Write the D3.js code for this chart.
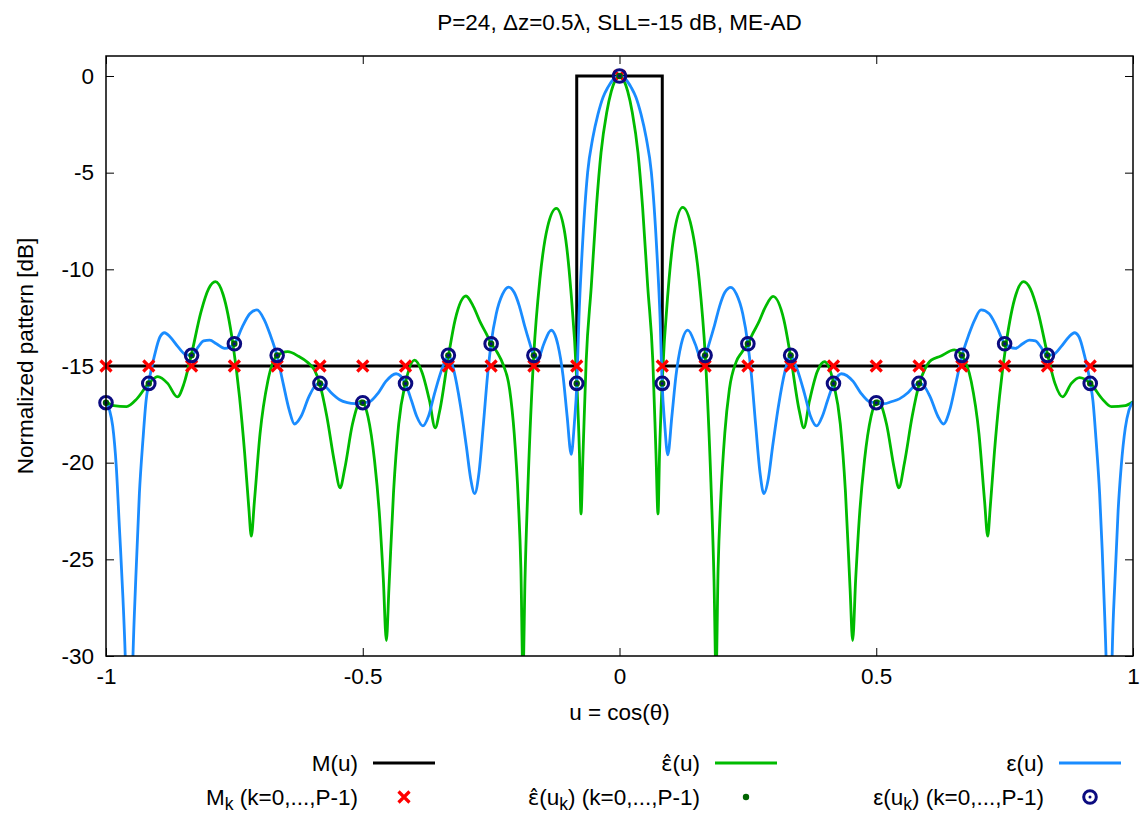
<!DOCTYPE html>
<html>
<head>
<meta charset="utf-8">
<script src="https://cdn.jsdelivr.net/npm/d3@7"></script>
<style>
  html, body { margin: 0; padding: 0; background: #fff; }
  svg { display: block; font-family: "Liberation Sans", Arial, Helvetica, sans-serif; }
</style>
</head>
<body>
<svg id="chart" width="1147" height="819"></svg>
<script>
// ---------------- data ----------------
const titleText = "P=24, \u0394z=0.5\u03bb, SLL=-15 dB, ME-AD";

const xTicks = [-1, -0.5, 0, 0.5, 1];
const xTickLabels = ["-1", "-0.5", "0", "0.5", "1"];
const yTicks = [0, -5, -10, -15, -20, -25, -30];
const yTickLabels = ["0", "-5", "-10", "-15", "-20", "-25", "-30"];

// sample directions u_k, k = 0..P-1
const sampleU = [-1, -0.9167, -0.8333, -0.75, -0.6667, -0.5833, -0.5, -0.4167,
                 -0.3333, -0.25, -0.1667, -0.0833, 0, 0.0833, 0.1667, 0.25,
                 0.3333, 0.4167, 0.5, 0.5833, 0.6667, 0.75, 0.8333, 0.9167];
// mask values M_k at the samples [dB]
const maskSamples = [-15, -15, -15, -15, -15, -15, -15, -15, -15, -15, -15, -15,
                     0, -15, -15, -15, -15, -15, -15, -15, -15, -15, -15, -15];
// pattern values at the samples [dB] (shared by both patterns)
const patternSamples = [-16.9, -15.9, -14.45, -13.85, -14.45, -15.9, -16.9, -15.9,
                        -14.45, -13.85, -14.45, -15.9, 0, -15.9, -14.45, -13.85,
                        -14.45, -15.9, -16.9, -15.9, -14.45, -13.85, -14.45, -15.9];

// mask M(u) breakpoints
const maskU  = [-1, -0.0833, -0.0833, 0.0833, 0.0833, 1];
const maskDb = [-15, -15, 0, 0, -15, -15];

// estimated pattern  eps^(u)  [u, dB]
const epsHatCurve = [
  [-1.000,-16.85],[-0.985,-17.05],[-0.960,-17.1],[-0.940,-16.7],[-0.917,-15.9],[-0.899,-15.55],
  [-0.880,-15.9],[-0.861,-16.6],[-0.848,-15.9],[-0.834,-14.45],[-0.815,-12.2],[-0.800,-11.0],
  [-0.787,-10.64],[-0.772,-11.3],[-0.753,-13.83],[-0.740,-16.6],[-0.730,-19.5],[-0.722,-22.3],
  [-0.717,-23.8],[-0.711,-22.0],[-0.700,-18.5],[-0.685,-15.8],[-0.667,-14.47],[-0.646,-14.26],
  [-0.625,-14.5],[-0.608,-14.8],[-0.594,-15.2],[-0.584,-15.9],[-0.570,-17.6],[-0.555,-20.0],
  [-0.544,-21.3],[-0.535,-20.3],[-0.520,-18.0],[-0.503,-16.8],[-0.490,-17.6],[-0.477,-19.9],
  [-0.468,-22.5],[-0.460,-26.0],[-0.454,-29.2],[-0.449,-26.5],[-0.440,-21.5],[-0.430,-18.0],
  [-0.417,-15.9],[-0.399,-14.7],[-0.385,-15.3],[-0.370,-16.8],[-0.359,-18.2],[-0.350,-17.3],
  [-0.333,-14.47],[-0.320,-12.6],[-0.299,-11.38],[-0.285,-11.9],[-0.270,-12.8],[-0.258,-13.4],
  [-0.250,-13.83],[-0.238,-14.3],[-0.227,-14.9],[-0.214,-16.2],[-0.205,-18.5],[-0.197,-22.0],
  [-0.192,-25.5],[-0.188,-31],[-0.184,-26],[-0.178,-21],[-0.167,-14.45],[-0.155,-10.5],
  [-0.140,-7.8],[-0.123,-6.85],[-0.108,-7.9],[-0.095,-11.0],[-0.083,-15.9],[-0.078,-19.5],
  [-0.075,-22.65],[-0.071,-19.5],[-0.065,-14.8],[-0.055,-10.9],[-0.045,-6.8],[-0.036,-3.97],
  [-0.025,-1.9],[-0.016,-0.8],[0,0],
  [0.016,-0.8],[0.025,-1.9],[0.036,-3.97],[0.045,-6.8],[0.055,-10.9],[0.065,-14.8],
  [0.071,-19.5],[0.075,-22.65],[0.078,-19.5],[0.083,-15.9],[0.095,-11.0],[0.108,-7.9],
  [0.123,-6.8],[0.140,-7.8],[0.155,-10.5],[0.167,-14.45],[0.178,-21],[0.184,-26],
  [0.188,-31],[0.192,-25.5],[0.197,-22.0],[0.205,-18.5],[0.214,-16.2],[0.227,-14.8],
  [0.238,-14.3],[0.250,-13.86],[0.258,-13.4],[0.270,-12.8],[0.285,-11.9],[0.299,-11.4],
  [0.320,-12.6],[0.333,-14.47],[0.350,-17.3],[0.359,-18.2],[0.370,-16.8],[0.385,-15.3],
  [0.399,-14.78],[0.417,-15.9],[0.430,-18.0],[0.440,-21.5],[0.449,-26.5],[0.454,-29.2],
  [0.460,-26.0],[0.468,-22.5],[0.477,-19.9],[0.490,-17.6],[0.503,-16.8],[0.520,-18.0],
  [0.535,-20.3],[0.544,-21.3],[0.555,-20.0],[0.570,-17.6],[0.584,-15.9],[0.594,-15.2],
  [0.607,-14.7],[0.625,-14.5],[0.652,-14.17],[0.667,-14.47],[0.685,-15.8],[0.700,-18.5],
  [0.711,-22.0],[0.717,-23.8],[0.722,-22.3],[0.730,-19.5],[0.740,-16.6],[0.753,-13.83],
  [0.772,-11.3],[0.787,-10.64],[0.800,-11.0],[0.815,-12.2],[0.834,-14.45],[0.848,-15.9],
  [0.863,-16.6],[0.880,-15.9],[0.896,-15.6],[0.917,-15.9],[0.940,-16.7],[0.958,-17.1],
  [0.985,-17.05],[1.000,-16.85]
];

// synthesized pattern  eps(u)  [u, dB]
const epsCurve = [
  [-1.000,-16.85],[-0.993,-17.3],[-0.987,-18.1],[-0.980,-20.2],[-0.974,-23.3],[-0.967,-27.0],
  [-0.962,-30.5],[-0.955,-40],[-0.948,-30.5],[-0.942,-26],[-0.935,-21.6],[-0.928,-18.8],
  [-0.922,-16.8],[-0.917,-15.9],[-0.905,-14.4],[-0.895,-13.5],[-0.886,-13.28],[-0.875,-13.5],
  [-0.860,-14.0],[-0.845,-14.4],[-0.833,-14.45],[-0.820,-14.0],[-0.810,-13.7],[-0.798,-13.66],
  [-0.785,-13.85],[-0.769,-14.09],[-0.750,-13.85],[-0.735,-13.0],[-0.720,-12.3],[-0.706,-12.1],
  [-0.692,-12.6],[-0.680,-13.4],[-0.667,-14.47],[-0.655,-15.9],[-0.643,-17.3],[-0.633,-18.0],
  [-0.620,-17.6],[-0.605,-16.6],[-0.590,-15.95],[-0.583,-15.9],[-0.575,-16.0],[-0.561,-16.4],
  [-0.545,-16.75],[-0.530,-16.9],[-0.515,-16.95],[-0.500,-16.9],[-0.487,-16.85],[-0.470,-16.4],
  [-0.455,-15.8],[-0.435,-15.4],[-0.417,-15.9],[-0.405,-16.8],[-0.395,-17.6],[-0.383,-18.1],
  [-0.372,-17.6],[-0.360,-16.4],[-0.345,-15.1],[-0.333,-14.47],[-0.322,-15.3],[-0.310,-17.0],
  [-0.298,-19.2],[-0.290,-20.8],[-0.282,-21.6],[-0.274,-20.6],[-0.265,-18.0],[-0.257,-15.5],
  [-0.250,-13.83],[-0.240,-12.3],[-0.228,-11.3],[-0.216,-10.92],[-0.205,-11.2],[-0.195,-11.9],
  [-0.185,-12.9],[-0.175,-13.8],[-0.167,-14.45],[-0.158,-14.6],[-0.148,-13.9],[-0.133,-13.15],
  [-0.120,-13.9],[-0.110,-15.5],[-0.102,-17.6],[-0.094,-19.57],[-0.088,-18.0],[-0.083,-15.9],
  [-0.079,-12.5],[-0.073,-9.2],[-0.062,-4.97],[-0.052,-3.2],[-0.042,-1.99],[-0.032,-1.1],
  [-0.023,-0.6],[-0.011,-0.15],[0,0],
  [0.011,-0.15],[0.023,-0.6],[0.032,-1.1],[0.042,-1.99],[0.052,-3.2],[0.062,-4.97],
  [0.073,-9.2],[0.079,-12.5],[0.083,-15.9],[0.088,-18.0],[0.094,-19.6],[0.102,-17.6],
  [0.110,-15.5],[0.120,-13.9],[0.133,-13.14],[0.148,-13.9],[0.158,-14.6],[0.167,-14.45],
  [0.175,-13.8],[0.185,-12.9],[0.195,-11.9],[0.205,-11.2],[0.217,-10.93],[0.228,-11.3],
  [0.240,-12.3],[0.250,-13.86],[0.257,-15.5],[0.265,-18.0],[0.274,-20.6],[0.281,-21.6],
  [0.290,-20.8],[0.298,-19.2],[0.310,-17.0],[0.322,-15.3],[0.333,-14.47],[0.345,-15.1],
  [0.360,-16.4],[0.372,-17.6],[0.384,-18.1],[0.395,-17.6],[0.405,-16.8],[0.417,-15.9],
  [0.432,-15.4],[0.455,-15.8],[0.470,-16.4],[0.487,-16.85],[0.500,-16.9],[0.515,-16.95],
  [0.529,-16.85],[0.545,-16.7],[0.561,-16.4],[0.575,-16.0],[0.583,-15.9],[0.590,-15.95],
  [0.605,-16.6],[0.620,-17.6],[0.631,-18.0],[0.643,-17.3],[0.655,-15.9],[0.667,-14.47],
  [0.680,-13.4],[0.692,-12.6],[0.704,-12.1],[0.720,-12.3],[0.735,-13.0],[0.750,-13.83],
  [0.771,-14.09],[0.785,-13.85],[0.798,-13.66],[0.810,-13.7],[0.820,-14.0],[0.833,-14.45],
  [0.845,-14.4],[0.860,-14.0],[0.875,-13.5],[0.886,-13.28],[0.895,-13.5],[0.905,-14.4],
  [0.917,-15.9],[0.922,-16.8],[0.928,-18.8],[0.935,-21.6],[0.940,-24.5],[0.945,-28.0],
  [0.948,-30.5],[0.954,-40],[0.959,-30.5],[0.965,-26],[0.971,-22.5],[0.977,-20.2],
  [0.985,-18.2],[0.992,-17.3],[1.000,-16.85]
];

// ---------------- styling ----------------
const colMask = "#000000";
const colHat = "#00bb00";
const colEps = "#1a8cff";
const colCross = "#ff0000";
const colDot = "#006400";
const colRing = "#0b0b80";
const fontSize = 22.5;

// ---------------- layout ----------------
const svg = d3.select("#chart");
const plot = { left: 106, right: 1133, top: 56, bottom: 656 };

const x = d3.scaleLinear().domain([-1, 1]).range([plot.left, plot.right]);
const y = d3.scaleLinear().domain([-30, 1.034]).range([plot.bottom, plot.top]);

svg.append("rect").attr("width", 1147).attr("height", 819).attr("fill", "#fff");

svg.append("defs").append("clipPath").attr("id", "plotClip")
  .append("rect")
  .attr("x", plot.left).attr("y", plot.top)
  .attr("width", plot.right - plot.left).attr("height", plot.bottom - plot.top);

// title
svg.append("text")
  .attr("x", (plot.left + plot.right) / 2).attr("y", 22)
  .attr("text-anchor", "middle").attr("dominant-baseline", "central")
  .attr("font-size", fontSize).text(titleText);

// axes (ticks point inward, mirrored on top/right)
function styleAxis(g) {
  g.select(".domain").remove();
  g.selectAll(".tick line").attr("stroke", "#000").attr("stroke-width", 1);
  g.selectAll(".tick text").attr("fill", "#000").attr("font-size", fontSize)
    .attr("font-family", "Liberation Sans, Arial, sans-serif");
}
svg.append("g").attr("transform", `translate(0,${plot.bottom})`)
  .call(d3.axisBottom(x).tickValues(xTicks).tickFormat((d, i) => xTickLabels[i])
    .tickSizeInner(-8).tickSizeOuter(0).tickPadding(12))
  .call(styleAxis);
svg.append("g").attr("transform", `translate(${plot.left},0)`)
  .call(d3.axisLeft(y).tickValues(yTicks).tickFormat((d, i) => yTickLabels[i])
    .tickSizeInner(-8).tickSizeOuter(0).tickPadding(12))
  .call(styleAxis);
svg.append("g").attr("transform", `translate(0,${plot.top})`)
  .call(d3.axisTop(x).tickValues(xTicks).tickFormat(() => "")
    .tickSizeInner(-8).tickSizeOuter(0))
  .call(styleAxis);
svg.append("g").attr("transform", `translate(${plot.right},0)`)
  .call(d3.axisRight(y).tickValues(yTicks).tickFormat(() => "")
    .tickSizeInner(-8).tickSizeOuter(0))
  .call(styleAxis);

// axis labels
svg.append("text")
  .attr("transform", `translate(25,${(plot.top + plot.bottom) / 2}) rotate(-90)`)
  .attr("text-anchor", "middle").attr("dominant-baseline", "central")
  .attr("font-size", fontSize).text("Normalized pattern [dB]");
svg.append("text")
  .attr("x", (plot.left + plot.right) / 2).attr("y", 712)
  .attr("text-anchor", "middle").attr("dominant-baseline", "central")
  .attr("font-size", fontSize).text("u = cos(\u03b8)");

// curves
const layer = svg.append("g").attr("clip-path", "url(#plotClip)");
const lineGen = d3.line().x(d => x(d[0])).y(d => y(d[1]));
const smoothGen = d3.line().x(d => x(d[0])).y(d => y(d[1])).curve(d3.curveMonotoneX);

const maskPts = maskU.map((u, i) => [u, maskDb[i]]);
layer.append("path").datum(maskPts).attr("d", lineGen)
  .attr("fill", "none").attr("stroke", colMask).attr("stroke-width", 3);
layer.append("path").datum(epsHatCurve).attr("d", smoothGen)
  .attr("fill", "none").attr("stroke", colHat).attr("stroke-width", 2.8)
  .attr("stroke-linejoin", "round");
layer.append("path").datum(epsCurve).attr("d", smoothGen)
  .attr("fill", "none").attr("stroke", colEps).attr("stroke-width", 2.8)
  .attr("stroke-linejoin", "round");

// markers
const crossPath = "M-5.5,-5.5L5.5,5.5M-5.5,5.5L5.5,-5.5";
const marks = svg.append("g");
marks.selectAll(".mk").data(sampleU).join("path")
  .attr("class", "mk")
  .attr("transform", (u, i) => `translate(${x(u)},${y(maskSamples[i])})`)
  .attr("d", crossPath).attr("stroke", colCross).attr("stroke-width", 3.2).attr("fill", "none");
marks.selectAll(".ed").data(sampleU).join("circle")
  .attr("class", "ed")
  .attr("cx", u => x(u)).attr("cy", (u, i) => y(patternSamples[i]))
  .attr("r", 3.2).attr("fill", colDot);
marks.selectAll(".er").data(sampleU).join("circle")
  .attr("class", "er")
  .attr("cx", u => x(u)).attr("cy", (u, i) => y(patternSamples[i]))
  .attr("r", 6.3).attr("fill", "none").attr("stroke", colRing).attr("stroke-width", 3);
marks.selectAll(".ec").data(sampleU).join("circle")
  .attr("class", "ec")
  .attr("cx", u => x(u)).attr("cy", (u, i) => y(patternSamples[i]))
  .attr("r", 1.5).attr("fill", colRing);

// frame
svg.append("rect")
  .attr("x", plot.left).attr("y", plot.top)
  .attr("width", plot.right - plot.left).attr("height", plot.bottom - plot.top)
  .attr("fill", "none").attr("stroke", "#000").attr("stroke-width", 1.5);

// ---------------- legend ----------------
const legendCols = [358, 700, 1044];
const legendRows = [763, 797];
const sampleLen = 62;
const legend = svg.append("g").attr("font-size", fontSize);

// parts: array of [string, kind]; kind: "" plain, "sub" subscript, "hat" epsilon with circumflex
function legendText(xEnd, yMid, parts) {
  const t = legend.append("text")
    .attr("x", xEnd).attr("y", yMid + fontSize * 0.35)
    .attr("text-anchor", "end");
  let shifted = false;
  parts.forEach(([s, kind]) => {
    const ts = t.append("tspan").text(s);
    const sub = kind === "sub";
    if (sub) ts.attr("font-size", fontSize * 0.78);
    if (kind === "hat") ts.attr("font-family", "DejaVu Sans").attr("font-size", fontSize * 0.95);
    if (sub && !shifted) { ts.attr("dy", 5); shifted = true; }
    else if (!sub && shifted) { ts.attr("dy", -5); shifted = false; }
  });
}

const c0 = legendCols[0], c1 = legendCols[1], c2 = legendCols[2];
const r0 = legendRows[0], r1 = legendRows[1];
const epsHat = "\u03b5\u0302";

legendText(c0, r0, [["M(u)", ""]]);
legend.append("line").attr("x1", c0 + 15).attr("x2", c0 + 15 + sampleLen)
  .attr("y1", r0).attr("y2", r0).attr("stroke", colMask).attr("stroke-width", 3);

legendText(c1, r0, [[epsHat, "hat"], ["(u)", ""]]);
legend.append("line").attr("x1", c1 + 15).attr("x2", c1 + 15 + sampleLen)
  .attr("y1", r0).attr("y2", r0).attr("stroke", colHat).attr("stroke-width", 3);

legendText(c2, r0, [["\u03b5(u)", ""]]);
legend.append("line").attr("x1", c2 + 15).attr("x2", c2 + 15 + sampleLen)
  .attr("y1", r0).attr("y2", r0).attr("stroke", colEps).attr("stroke-width", 3);

legendText(c0, r1, [["M", ""], ["k", "sub"], [" (k=0,...,P-1)", ""]]);
legend.append("path").attr("transform", `translate(${c0 + 15 + sampleLen / 2},${r1})`)
  .attr("d", crossPath).attr("stroke", colCross).attr("stroke-width", 3.2).attr("fill", "none");

legendText(c1, r1, [[epsHat, "hat"], ["(u", ""], ["k", "sub"], [") (k=0,...,P-1)", ""]]);
legend.append("circle").attr("cx", c1 + 15 + sampleLen / 2).attr("cy", r1)
  .attr("r", 3.2).attr("fill", colDot);

legendText(c2, r1, [["\u03b5(u", ""], ["k", "sub"], [") (k=0,...,P-1)", ""]]);
legend.append("circle").attr("cx", c2 + 15 + sampleLen / 2).attr("cy", r1)
  .attr("r", 6.3).attr("fill", "none").attr("stroke", colRing).attr("stroke-width", 3);
legend.append("circle").attr("cx", c2 + 15 + sampleLen / 2).attr("cy", r1)
  .attr("r", 1.5).attr("fill", colRing);
</script>
</body>
</html>
